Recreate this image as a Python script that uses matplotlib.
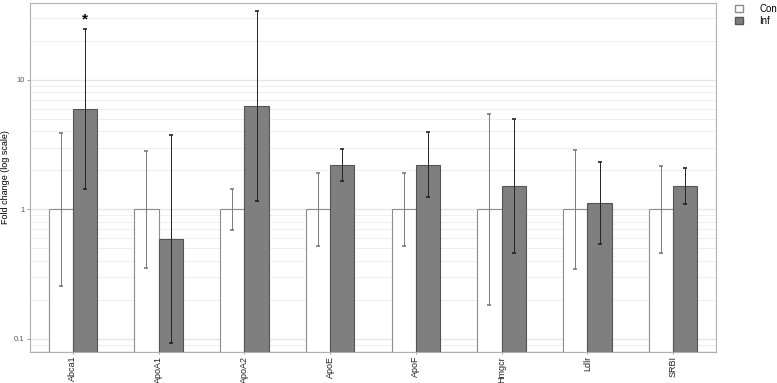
import numpy as np
import matplotlib.pyplot as plt
from matplotlib.patches import Patch
from matplotlib.ticker import LogLocator, NullFormatter

plt.rcParams['font.family'] = ['Liberation Sans', 'DejaVu Sans']

genes = ['Abca1', 'ApoA1', 'ApoA2', 'ApoE', 'ApoF', 'Hmgcr', 'Ldlr', 'SRBI']

con_fc = [1, 1, 1, 1, 1, 1, 1, 1]
con_lo = [0.257, 0.354, 0.692, 0.524, 0.524, 0.182, 0.344, 0.46]
con_hi = [3.88, 2.80, 1.43, 1.90, 1.90, 5.44, 2.89, 2.17]

inf_fc = [5.95, 0.59, 6.28, 2.22, 2.22, 1.52, 1.12, 1.51]
inf_lo = [1.43, 0.0933, 1.17, 1.66, 1.24, 0.462, 0.537, 1.09]
inf_hi = [24.5, 3.72, 33.8, 2.94, 3.93, 4.95, 2.33, 2.10]

signif = ['*', '', '', '', '', '', '', '']
signif_y = [29.3, 0, 0, 0, 0, 0, 0, 0]

ymin, ymax = 0.0795, 39.2

fig = plt.figure(figsize=(7.77, 3.83), dpi=100)
ax = fig.add_axes([0.0386, 0.0817, 0.8829, 0.9103])

x = np.arange(len(genes))
w = 0.283

# bars start at the bottom of the panel like ggplot on a log axis
con_h = np.array(con_fc) - ymin
inf_h = np.array(inf_fc) - ymin
ax.bar(x - w / 2, con_h, w, bottom=ymin, color='white', edgecolor='#8c8c8c', linewidth=0.8, zorder=2)
ax.bar(x + w / 2, inf_h, w, bottom=ymin, color='#7f7f7f', edgecolor='#555555', linewidth=0.8, zorder=2)

# error bars
con_err = [np.array(con_fc) - np.array(con_lo), np.array(con_hi) - np.array(con_fc)]
inf_err = [np.array(inf_fc) - np.array(inf_lo), np.array(inf_hi) - np.array(inf_fc)]
ax.errorbar(x - w / 2, con_fc, yerr=con_err, fmt='none', ecolor='#7a7a7a', elinewidth=0.7,
            capsize=1.5, capthick=1.2, zorder=3)
ax.errorbar(x + w / 2, inf_fc, yerr=inf_err, fmt='none', ecolor='#222222', elinewidth=0.7,
            capsize=1.5, capthick=1.2, zorder=3)

for i, s in enumerate(signif):
    if s:
        ax.text(x[i] + w / 2, signif_y[i], s, ha='center', va='center', fontsize=11,
                fontweight='bold', color='black')

ax.set_yscale('log')
ax.set_ylim(ymin, ymax)
ax.set_xlim(-0.5, len(genes) - 0.5)

ax.yaxis.set_minor_locator(LogLocator(base=10, subs=np.arange(2, 10), numticks=20))
ax.yaxis.set_minor_formatter(NullFormatter())
ax.set_yticks([0.1, 1, 10])
ax.set_yticklabels(['0.1', '1', '10'], fontsize=5.5, color='#555555')
ax.grid(True, which='major', axis='y', color='#e6e6e6', linewidth=1.0, zorder=0)
ax.grid(True, which='minor', axis='y', color='#ededed', linewidth=0.6, zorder=0)
ax.set_axisbelow(True)
ax.tick_params(axis='y', which='minor', length=0)
ax.tick_params(axis='y', which='major', length=2, width=0.6, color='#888888', pad=2)

ax.set_xticks(x)
ax.set_xticklabels(genes, rotation=90, fontsize=6.5, color='#222222')
ax.tick_params(axis='x', length=1.5, width=0.6, color='#888888', pad=1.5)

ax.set_ylabel('Fold change (log scale)', fontsize=6.5, labelpad=3)

for sp in ax.spines.values():
    sp.set_color('#b0b0b0')
    sp.set_linewidth(0.8)

handles = [Patch(facecolor='white', edgecolor='#8c8c8c', label='Con'),
           Patch(facecolor='#7f7f7f', edgecolor='#555555', label='Inf')]
fig.legend(handles=handles, loc='upper left', bbox_to_anchor=(735 / 777, 1 - 4 / 383), frameon=False,
           borderpad=0, borderaxespad=0, fontsize=7, handlelength=0.8, handleheight=0.8,
           handletextpad=1.7, labelspacing=0.2)

fig.savefig('out.png', dpi=100)
